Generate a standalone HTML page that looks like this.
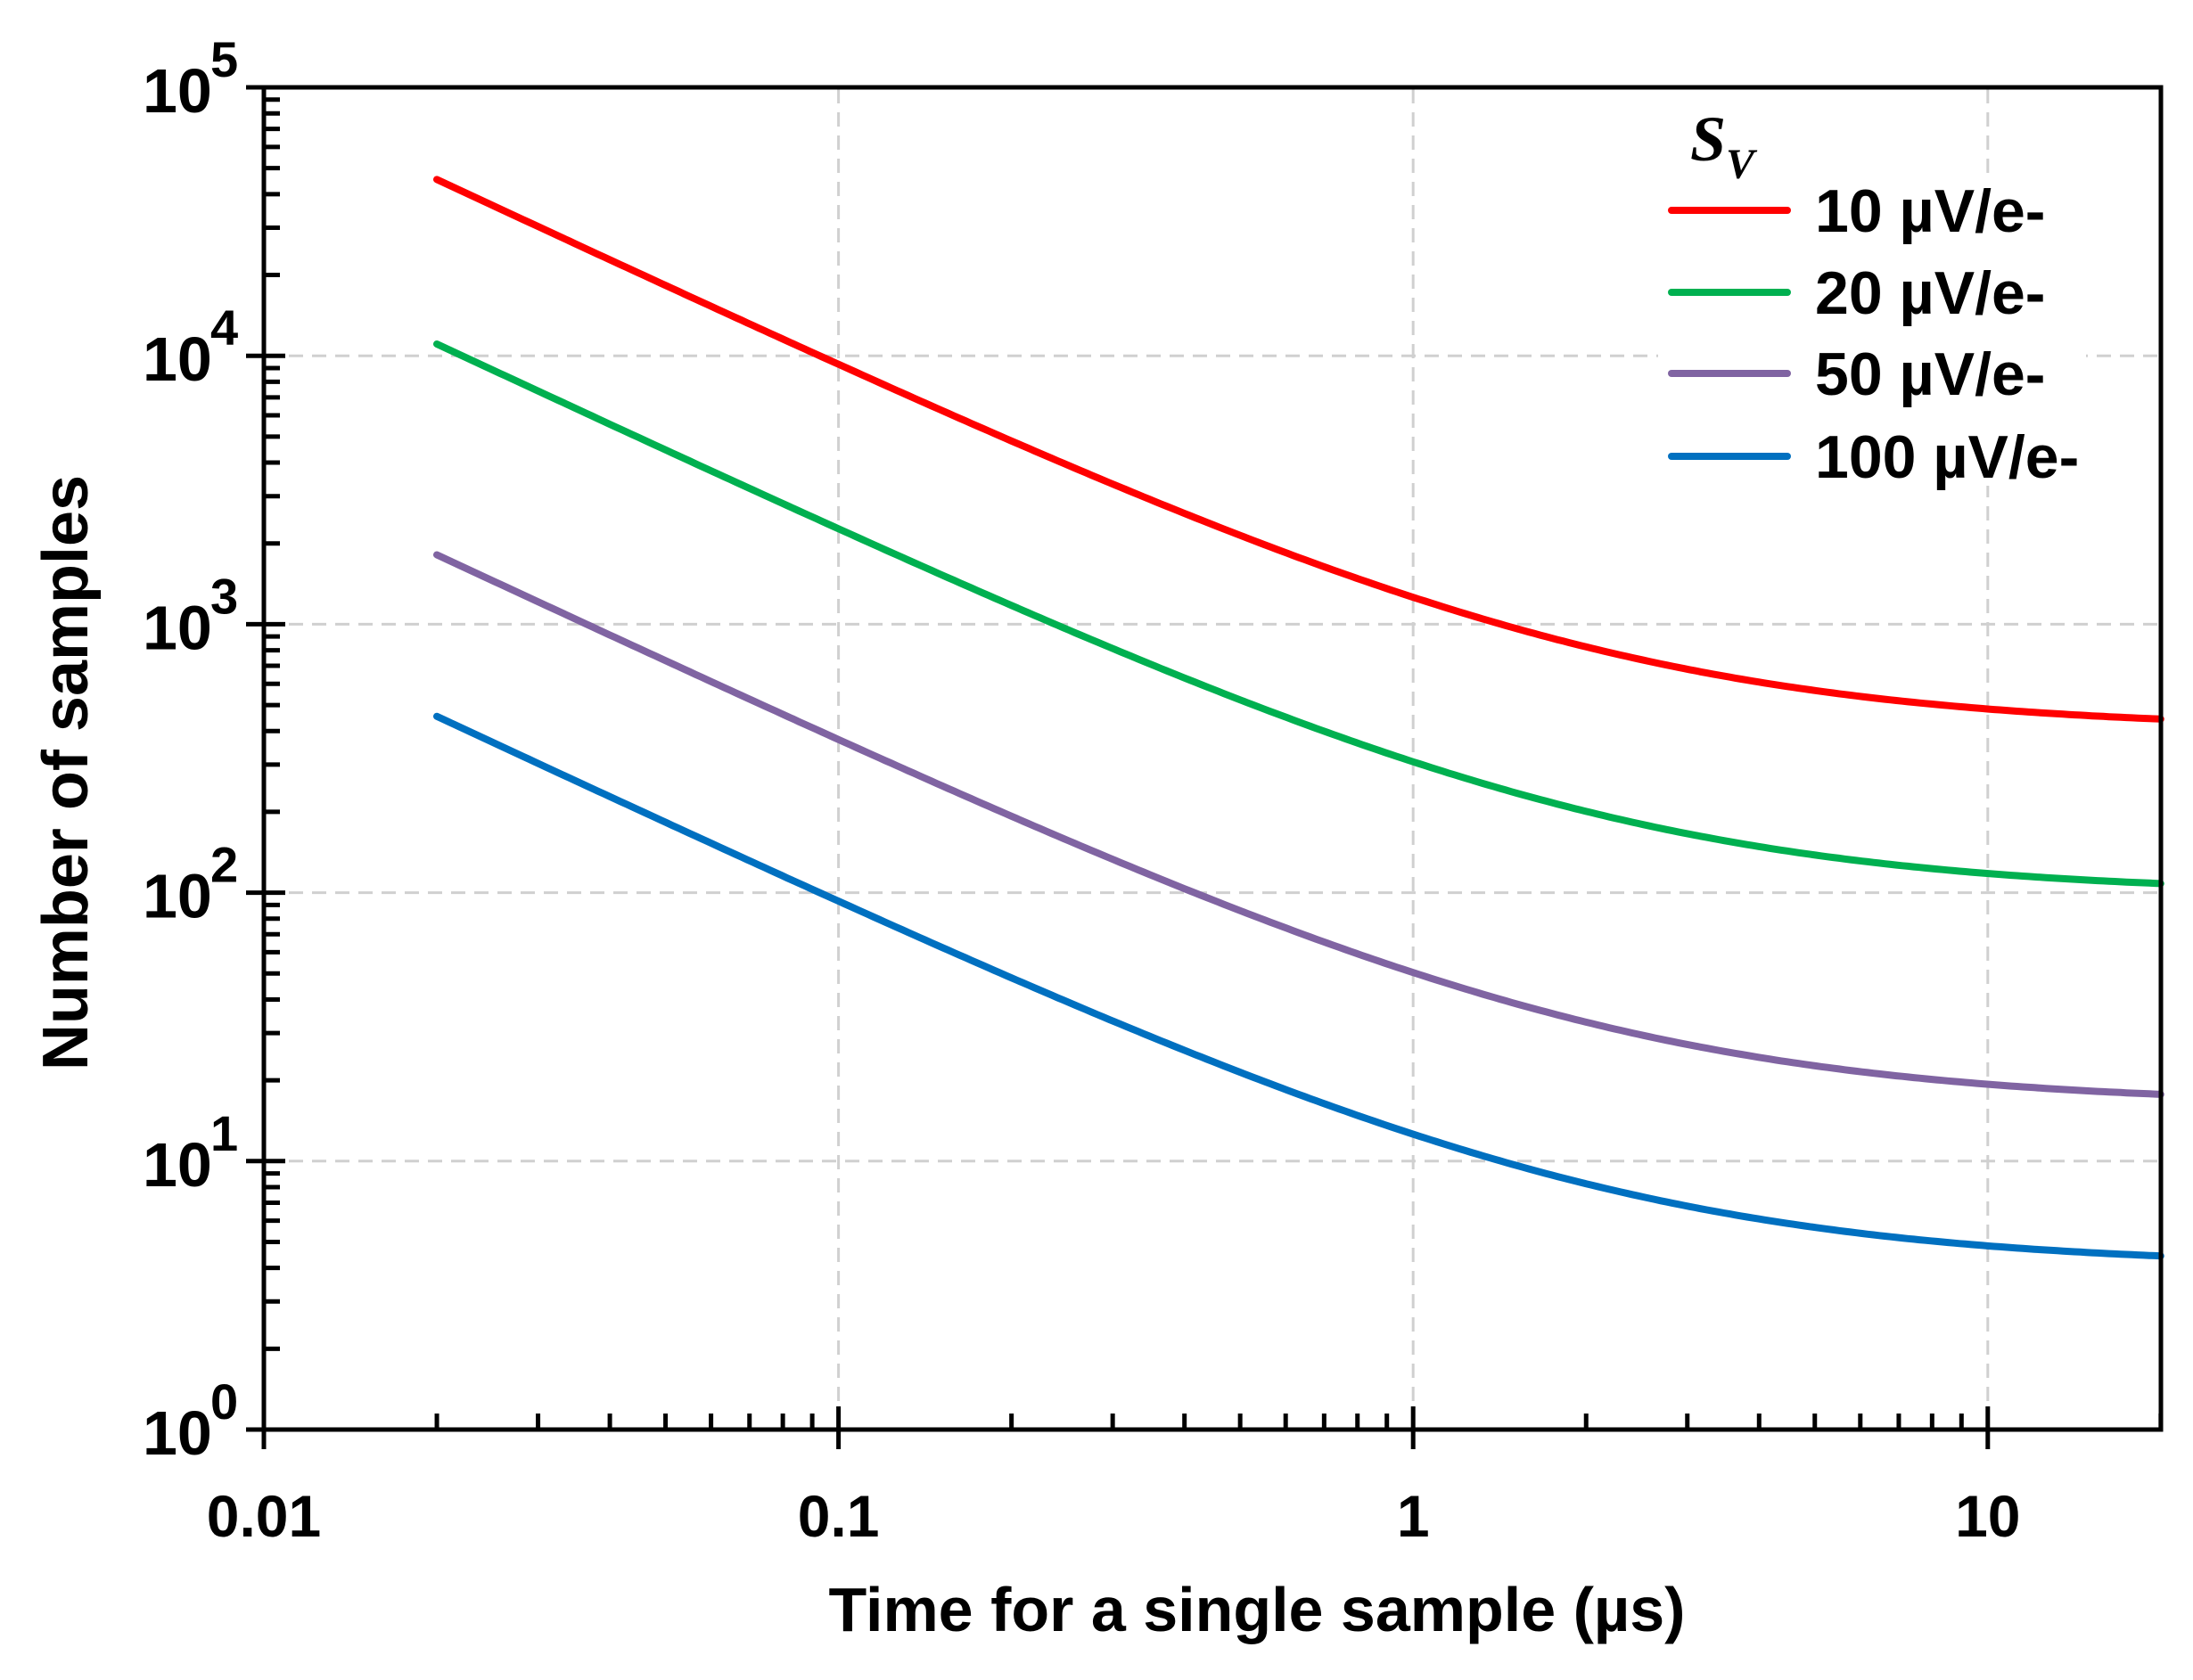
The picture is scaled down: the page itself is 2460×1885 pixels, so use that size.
<!DOCTYPE html>
<html><head><meta charset="utf-8"><style>
html,body{margin:0;padding:0;background:#fff;}
svg{display:block;}
text{font-family:"Liberation Sans Narrow","Liberation Sans",sans-serif;font-weight:bold;fill:#000;}
</style></head><body>
<svg id="s" width="2460" height="1885" viewBox="0 0 2460 1885" xmlns="http://www.w3.org/2000/svg">
<g id="grid" stroke="#d0d0d0" stroke-width="3" stroke-dasharray="16,10" fill="none"></g>
<rect x="1860" y="195" width="480" height="350" fill="#fff"/>
<g id="curves" fill="none" stroke-width="8" stroke-linecap="round"></g>
<rect x="296" y="98" width="2128" height="1506" fill="none" stroke="#000" stroke-width="5"/>
<g id="ticks" stroke="#000" stroke-width="5"></g>
<g id="labels" font-size="64"></g>
<text x="1410" y="1830" font-size="70" text-anchor="middle">Time for a single sample (µs)</text>
<text transform="translate(98,867) rotate(-90)" font-size="72" text-anchor="middle">Number of samples</text>
<text x="1896" y="180" font-size="72" style="font-family:'Liberation Serif',serif;font-style:italic;font-weight:bold">S<tspan font-size="48" dy="20">V</tspan></text>
<g stroke-width="8" stroke-linecap="round">
<line x1="1875" y1="236" x2="2005" y2="236" stroke="#ff0000"/>
<line x1="1875" y1="328" x2="2005" y2="328" stroke="#00b050"/>
<line x1="1875" y1="419" x2="2005" y2="419" stroke="#8064a2"/>
<line x1="1875" y1="512" x2="2005" y2="512" stroke="#0070c0"/>
</g>
<g font-size="68">
<text x="2036" y="260">10 µV/e-</text>
<text x="2036" y="352">20 µV/e-</text>
<text x="2036" y="443">50 µV/e-</text>
<text x="2036" y="536">100 µV/e-</text>
</g>
</svg>
<script>
const NS="http://www.w3.org/2000/svg";
const X=t=>296+644.6*Math.log10(t/0.01), Y=n=>1604-301.2*Math.log10(n);
function el(p,tag,a){const e=document.createElementNS(NS,tag);for(const k in a)e.setAttribute(k,a[k]);p.appendChild(e);return e;}
const g=document.getElementById('grid'),tk=document.getElementById('ticks'),lb=document.getElementById('labels'),cv=document.getElementById('curves');
[0.1,1,10].forEach(t=>el(g,'line',{x1:X(t),y1:100,x2:X(t),y2:1602}));
[1,2,3,4].forEach(k=>el(g,'line',{x1:298,y1:Y(Math.pow(10,k)),x2:2422,y2:Y(Math.pow(10,k))}));
for(let d=-2;d<=1;d++){for(let m=1;m<10;m++){const t=m*Math.pow(10,d);if(t>20)break;const x=X(t);
 if(m==1)el(tk,'line',{x1:x,y1:1578,x2:x,y2:1626});else el(tk,'line',{x1:x,y1:1586,x2:x,y2:1604});}}
for(let d=0;d<=5;d++){for(let m=1;m<10;m++){const n=m*Math.pow(10,d);if(n>1e5)break;const y=Y(n);
 if(m==1)el(tk,'line',{x1:276,y1:y,x2:320,y2:y});else el(tk,'line',{x1:296,y1:y,x2:314,y2:y});}}
['0.01','0.1','1','10'].forEach((s,i)=>{const t=el(lb,'text',{x:X(Math.pow(10,i-2)),y:1724,'text-anchor':'middle','font-size':'66'});t.textContent=s;});
for(let k=0;k<=5;k++){const y=Y(Math.pow(10,k));const t=el(lb,'text',{x:160,y:y+28,'font-size':'70'});t.textContent='10';
 const s=el(lb,'text',{x:236,y:y-12,'font-size':'56'});s.textContent=k;}
const cols=['#ff0000','#00b050','#8064a2','#0070c0'],sc=[1,1/4.1,1/25,1/100];
cols.forEach((c,i)=>{let d='';for(let j=0;j<=300;j++){const lt=Math.log10(0.02)+j/300*(Math.log10(20)-Math.log10(0.02));const t=Math.pow(10,lt);
 const n=(907/t+411-58/Math.sqrt(t))*sc[i];d+=(j?'L':'M')+X(t).toFixed(1)+','+Y(n).toFixed(1);}
 el(cv,'path',{d:d,stroke:c});});
</script>
</body></html>
